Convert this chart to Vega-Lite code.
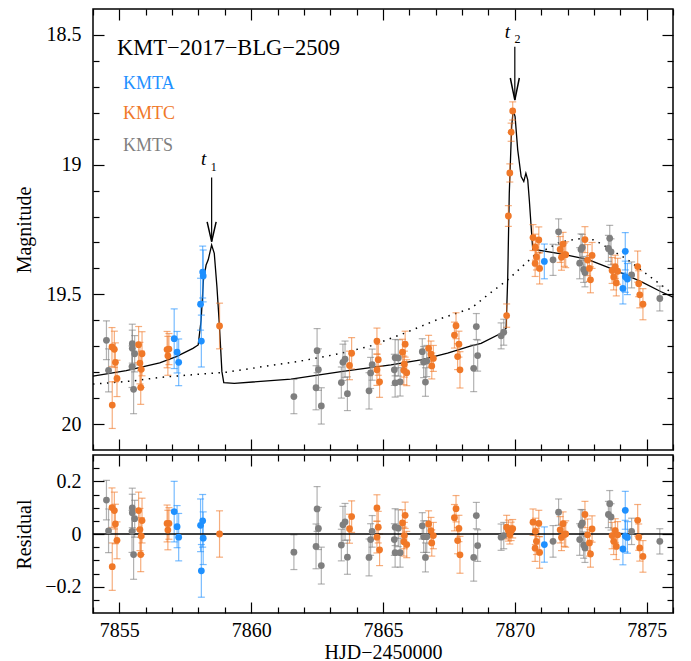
{
  "$schema": "https://vega.github.io/schema/vega-lite/v6.json",
  "padding": {"left": 13, "top": 7, "right": 19, "bottom": 0},
  "spacing": 1,
  "datasets": {
    "obs": [
      {"t":7854.51,"s":"KMTS","m":19.677,"e":0.075,"r":0.129},
      {"t":7854.59,"s":"KMTS","m":19.793,"e":0.083,"r":0.012},
      {"t":7855.49,"s":"KMTS","m":19.690,"e":0.075,"r":0.099},
      {"t":7855.49,"s":"KMTS","m":19.708,"e":0.070,"r":0.081},
      {"t":7855.58,"s":"KMTS","m":19.729,"e":0.070,"r":0.058},
      {"t":7855.48,"s":"KMTS","m":19.779,"e":0.080,"r":0.010},
      {"t":7855.54,"s":"KMTS","m":19.866,"e":0.094,"r":-0.078},
      {"t":7854.72,"s":"KMTC","m":19.703,"e":0.075,"r":0.100},
      {"t":7854.81,"s":"KMTC","m":19.712,"e":0.070,"r":0.089},
      {"t":7854.85,"s":"KMTC","m":19.762,"e":0.075,"r":0.038},
      {"t":7854.91,"s":"KMTC","m":19.824,"e":0.070,"r":-0.024},
      {"t":7854.73,"s":"KMTC","m":19.927,"e":0.090,"r":-0.124},
      {"t":7855.73,"s":"KMTC","m":19.694,"e":0.070,"r":0.089},
      {"t":7855.78,"s":"KMTC","m":19.765,"e":0.080,"r":0.017},
      {"t":7855.86,"s":"KMTC","m":19.729,"e":0.085,"r":0.051},
      {"t":7855.83,"s":"KMTC","m":19.789,"e":0.070,"r":-0.008},
      {"t":7855.81,"s":"KMTC","m":19.859,"e":0.065,"r":-0.078},
      {"t":7856.81,"s":"KMTC","m":19.713,"e":0.070,"r":0.040},
      {"t":7856.88,"s":"KMTC","m":19.711,"e":0.060,"r":0.040},
      {"t":7856.84,"s":"KMTC","m":19.737,"e":0.075,"r":0.015},
      {"t":7857.08,"s":"KMTA","m":19.671,"e":0.115,"r":0.085},
      {"t":7857.19,"s":"KMTA","m":19.723,"e":0.080,"r":0.028},
      {"t":7857.25,"s":"KMTA","m":19.762,"e":0.090,"r":-0.012},
      {"t":7858.08,"s":"KMTA","m":19.538,"e":0.100,"r":0.033},
      {"t":7858.11,"s":"KMTA","m":19.680,"e":0.100,"r":-0.140},
      {"t":7858.16,"s":"KMTA","m":19.414,"e":0.100,"r":0.050},
      {"t":7858.18,"s":"KMTA","m":19.429,"e":0.100,"r":-0.016},
      {"t":7858.80,"s":"KMTC","m":19.622,"e":0.088,"r":0.000},
      {"t":7861.62,"s":"KMTS","m":19.894,"e":0.066,"r":-0.069},
      {"t":7862.50,"s":"KMTS","m":19.717,"e":0.085,"r":0.095},
      {"t":7862.55,"s":"KMTS","m":19.790,"e":0.080,"r":0.021},
      {"t":7862.46,"s":"KMTS","m":19.860,"e":0.085,"r":-0.047},
      {"t":7862.66,"s":"KMTS","m":19.930,"e":0.070,"r":-0.120},
      {"t":7863.42,"s":"KMTS","m":19.840,"e":0.060,"r":-0.042},
      {"t":7863.48,"s":"KMTS","m":19.762,"e":0.070,"r":0.035},
      {"t":7863.56,"s":"KMTS","m":19.750,"e":0.070,"r":0.046},
      {"t":7863.65,"s":"KMTS","m":19.883,"e":0.065,"r":-0.088},
      {"t":7863.73,"s":"KMTC","m":19.774,"e":0.055,"r":0.020},
      {"t":7863.81,"s":"KMTC","m":19.727,"e":0.060,"r":0.066},
      {"t":7864.47,"s":"KMTS","m":19.872,"e":0.070,"r":-0.089},
      {"t":7864.53,"s":"KMTS","m":19.803,"e":0.060,"r":-0.021},
      {"t":7864.59,"s":"KMTS","m":19.771,"e":0.060,"r":0.010},
      {"t":7864.77,"s":"KMTC","m":19.680,"e":0.050,"r":0.099},
      {"t":7864.82,"s":"KMTC","m":19.752,"e":0.060,"r":0.026},
      {"t":7864.77,"s":"KMTC","m":19.791,"e":0.060,"r":-0.012},
      {"t":7864.87,"s":"KMTC","m":19.837,"e":0.060,"r":-0.060},
      {"t":7865.43,"s":"KMTS","m":19.791,"e":0.060,"r":-0.021},
      {"t":7865.46,"s":"KMTS","m":19.744,"e":0.070,"r":0.026},
      {"t":7865.58,"s":"KMTS","m":19.745,"e":0.070,"r":0.022},
      {"t":7865.46,"s":"KMTS","m":19.841,"e":0.055,"r":-0.071},
      {"t":7865.65,"s":"KMTS","m":19.837,"e":0.055,"r":-0.071},
      {"t":7865.74,"s":"KMTC","m":19.723,"e":0.050,"r":0.042},
      {"t":7865.84,"s":"KMTC","m":19.692,"e":0.050,"r":0.071},
      {"t":7865.81,"s":"KMTC","m":19.769,"e":0.050,"r":-0.006},
      {"t":7865.79,"s":"KMTC","m":19.793,"e":0.055,"r":-0.029},
      {"t":7865.90,"s":"KMTC","m":19.802,"e":0.050,"r":-0.040},
      {"t":7866.49,"s":"KMTS","m":19.721,"e":0.050,"r":0.031},
      {"t":7866.54,"s":"KMTS","m":19.761,"e":0.060,"r":-0.010},
      {"t":7866.66,"s":"KMTS","m":19.757,"e":0.060,"r":-0.010},
      {"t":7866.61,"s":"KMTS","m":19.838,"e":0.055,"r":-0.089},
      {"t":7866.73,"s":"KMTC","m":19.708,"e":0.050,"r":0.038},
      {"t":7866.82,"s":"KMTC","m":19.730,"e":0.050,"r":0.013},
      {"t":7866.91,"s":"KMTC","m":19.747,"e":0.050,"r":-0.006},
      {"t":7866.85,"s":"KMTC","m":19.776,"e":0.050,"r":-0.034},
      {"t":7867.71,"s":"KMTC","m":19.657,"e":0.050,"r":0.062},
      {"t":7867.77,"s":"KMTC","m":19.621,"e":0.050,"r":0.096},
      {"t":7867.88,"s":"KMTC","m":19.692,"e":0.050,"r":0.021},
      {"t":7867.83,"s":"KMTC","m":19.740,"e":0.050,"r":-0.025},
      {"t":7867.92,"s":"KMTC","m":19.791,"e":0.070,"r":-0.079},
      {"t":7868.44,"s":"KMTS","m":19.785,"e":0.090,"r":-0.089},
      {"t":7868.54,"s":"KMTS","m":19.624,"e":0.050,"r":0.070},
      {"t":7868.59,"s":"KMTS","m":19.736,"e":0.060,"r":-0.044},
      {"t":7869.48,"s":"KMTS","m":19.660,"e":0.050,"r":-0.012},
      {"t":7869.58,"s":"KMTS","m":19.646,"e":0.050,"r":-0.006},
      {"t":7869.69,"s":"KMTC","m":19.582,"e":0.045,"r":0.026},
      {"t":7869.755,"s":"KMTC","m":19.198,"e":0.040,"r":0.013},
      {"t":7869.81,"s":"KMTC","m":19.032,"e":0.035,"r":-0.003},
      {"t":7869.86,"s":"KMTC","m":18.875,"e":0.035,"r":0.010},
      {"t":7869.92,"s":"KMTC","m":18.793,"e":0.035,"r":0.020},
      {"t":7870.69,"s":"KMTC","m":19.281,"e":0.050,"r":0.045},
      {"t":7870.78,"s":"KMTC","m":19.318,"e":0.050,"r":0.010},
      {"t":7870.82,"s":"KMTC","m":19.356,"e":0.050,"r":-0.028},
      {"t":7870.77,"s":"KMTC","m":19.381,"e":0.050,"r":-0.054},
      {"t":7870.91,"s":"KMTC","m":19.290,"e":0.050,"r":0.040},
      {"t":7870.94,"s":"KMTC","m":19.400,"e":0.060,"r":-0.070},
      {"t":7871.12,"s":"KMTA","m":19.373,"e":0.067,"r":-0.040},
      {"t":7871.45,"s":"KMTS","m":19.367,"e":0.060,"r":-0.028},
      {"t":7871.66,"s":"KMTS","m":19.259,"e":0.050,"r":0.083},
      {"t":7871.72,"s":"KMTC","m":19.327,"e":0.050,"r":0.016},
      {"t":7871.77,"s":"KMTC","m":19.357,"e":0.050,"r":-0.013},
      {"t":7871.83,"s":"KMTC","m":19.306,"e":0.045,"r":0.039},
      {"t":7871.88,"s":"KMTC","m":19.347,"e":0.045,"r":-0.002},
      {"t":7871.93,"s":"KMTC","m":19.347,"e":0.050,"r":0.000},
      {"t":7872.46,"s":"KMTS","m":19.380,"e":0.060,"r":-0.021},
      {"t":7872.51,"s":"KMTS","m":19.327,"e":0.060,"r":0.033},
      {"t":7872.56,"s":"KMTS","m":19.319,"e":0.050,"r":0.042},
      {"t":7872.61,"s":"KMTS","m":19.404,"e":0.050,"r":-0.042},
      {"t":7872.66,"s":"KMTS","m":19.416,"e":0.055,"r":-0.053},
      {"t":7872.66,"s":"KMTC","m":19.289,"e":0.050,"r":0.074},
      {"t":7872.76,"s":"KMTC","m":19.368,"e":0.060,"r":-0.003},
      {"t":7872.83,"s":"KMTC","m":19.400,"e":0.050,"r":-0.034},
      {"t":7872.87,"s":"KMTC","m":19.444,"e":0.050,"r":-0.076},
      {"t":7872.93,"s":"KMTC","m":19.350,"e":0.050,"r":0.019},
      {"t":7873.55,"s":"KMTS","m":19.323,"e":0.050,"r":0.074},
      {"t":7873.60,"s":"KMTS","m":19.284,"e":0.050,"r":0.115},
      {"t":7873.65,"s":"KMTS","m":19.336,"e":0.050,"r":0.065},
      {"t":7873.69,"s":"KMTC","m":19.408,"e":0.050,"r":-0.006},
      {"t":7873.75,"s":"KMTC","m":19.433,"e":0.050,"r":-0.028},
      {"t":7873.81,"s":"KMTC","m":19.394,"e":0.045,"r":0.013},
      {"t":7873.85,"s":"KMTC","m":19.456,"e":0.050,"r":-0.047},
      {"t":7873.90,"s":"KMTC","m":19.411,"e":0.050,"r":-0.003},
      {"t":7874.10,"s":"KMTA","m":19.477,"e":0.060,"r":-0.057},
      {"t":7874.19,"s":"KMTA","m":19.334,"e":0.072,"r":0.090},
      {"t":7874.19,"s":"KMTA","m":19.432,"e":0.060,"r":-0.008},
      {"t":7874.27,"s":"KMTA","m":19.441,"e":0.060,"r":-0.013},
      {"t":7874.43,"s":"KMTS","m":19.425,"e":0.050,"r":0.010},
      {"t":7874.66,"s":"KMTC","m":19.393,"e":0.060,"r":0.052},
      {"t":7874.70,"s":"KMTC","m":19.459,"e":0.050,"r":-0.012},
      {"t":7874.74,"s":"KMTC","m":19.502,"e":0.050,"r":-0.053},
      {"t":7874.86,"s":"KMTC","m":19.538,"e":0.060,"r":-0.085},
      {"t":7875.50,"s":"KMTS","m":19.516,"e":0.048,"r":-0.028}
    ],
    "model": [
      {"t":7854.0,"m":19.815},{"t":7855.26,"m":19.794},{"t":7856.53,"m":19.764},
      {"t":7857.16,"m":19.74},{"t":7857.79,"m":19.708},{"t":7857.99,"m":19.695},
      {"t":7858.10,"m":19.60},{"t":7858.19,"m":19.444},{"t":7858.29,"m":19.387},
      {"t":7858.37,"m":19.367},{"t":7858.50,"m":19.31},{"t":7858.60,"m":19.342},
      {"t":7858.70,"m":19.47},{"t":7858.79,"m":19.612},{"t":7858.89,"m":19.798},
      {"t":7858.96,"m":19.84},{"t":7859.36,"m":19.843},{"t":7861.51,"m":19.827},
      {"t":7863.41,"m":19.798},{"t":7865.30,"m":19.772},{"t":7866.44,"m":19.753},
      {"t":7867.45,"m":19.727},{"t":7868.34,"m":19.699},{"t":7868.72,"m":19.689},
      {"t":7869.48,"m":19.65},{"t":7869.67,"m":19.631},{"t":7869.73,"m":19.44},
      {"t":7869.79,"m":19.11},{"t":7869.88,"m":18.853},{"t":7869.94,"m":18.789},
      {"t":7870.01,"m":18.815},{"t":7870.11,"m":18.943},{"t":7870.24,"m":19.046},
      {"t":7870.34,"m":19.065},{"t":7870.42,"m":19.033},{"t":7870.49,"m":19.059},
      {"t":7870.55,"m":19.136},{"t":7870.61,"m":19.226},{"t":7870.68,"m":19.326},
      {"t":7871.75,"m":19.344},{"t":7872.76,"m":19.365},{"t":7873.78,"m":19.406},
      {"t":7874.79,"m":19.451},{"t":7875.55,"m":19.49},{"t":7876.0,"m":19.511}
    ],
    "single": [
      {"t":7854.0,"m":19.846},{"t":7855.5,"m":19.834},{"t":7856.53,"m":19.82},
      {"t":7858.0,"m":19.808},{"t":7859.06,"m":19.8},{"t":7860.75,"m":19.774},
      {"t":7862.0,"m":19.755},{"t":7863.28,"m":19.73},{"t":7864.5,"m":19.70},
      {"t":7865.81,"m":19.65},{"t":7867.0,"m":19.60},{"t":7868.34,"m":19.554},
      {"t":7869.0,"m":19.50},{"t":7869.73,"m":19.444},{"t":7870.74,"m":19.35},
      {"t":7871.75,"m":19.297},{"t":7872.5,"m":19.285},{"t":7873.02,"m":19.29},
      {"t":7873.77,"m":19.335},{"t":7874.28,"m":19.367},{"t":7875.04,"m":19.425},
      {"t":7875.55,"m":19.464},{"t":7876.0,"m":19.498}
    ]
  },
  "vconcat": [
    {
      "width": 580,
      "height": 441,
      "layer": [
        {
          "data": {"name": "single"},
          "mark": {"type": "line", "color": "black", "strokeWidth": 1.5, "strokeDash": [1.5, 5.5]},
          "encoding": {
            "x": {"field": "t", "type": "quantitative", "scale": {"domain": [7854, 7876], "nice": false, "zero": false}, "axis": null},
            "y": {"field": "m", "type": "quantitative", "scale": {"domain": [18.4, 20.1], "reverse": true, "nice": false, "zero": false}, "axis": null}
          }
        },
        {
          "data": {"name": "model"},
          "mark": {"type": "line", "color": "black", "strokeWidth": 1.3},
          "encoding": {
            "x": {"field": "t", "type": "quantitative", "axis": {"orient": "top", "values": [7854,7856,7857,7858,7859,7861,7862,7863,7864,7866,7867,7868,7869,7871,7872,7873,7874,7876], "labels": false, "title": null, "tickSize": -6}},
            "y": {"field": "m", "type": "quantitative", "axis": {"orient": "right", "values": [18.6,18.7,18.8,18.9,19.1,19.2,19.3,19.4,19.6,19.7,19.8,19.9], "labels": false, "title": null, "tickSize": -6}}
          }
        },
        {
          "data": {"name": "obs"},
          "mark": {"type": "errorbar", "ticks": {"size": 7}, "thickness": 1.2, "opacity": 0.6},
          "encoding": {
            "x": {"field": "t", "type": "quantitative", "axis": null},
            "y": {"field": "m", "type": "quantitative", "axis": null},
            "yError": {"field": "e"},
            "color": {"field": "s", "type": "nominal", "scale": {"domain": ["KMTA", "KMTC", "KMTS"], "range": ["#1E90FF", "#F07828", "#7F7F7F"]}, "legend": null}
          }
        },
        {
          "data": {"name": "obs"},
          "transform": [{"filter": "datum.s === 'KMTS'"}],
          "mark": {"type": "circle", "size": 46, "opacity": 1},
          "encoding": {
            "x": {"field": "t", "type": "quantitative", "axis": {"orient": "bottom", "values": [7855,7860,7865,7870,7875], "labels": false, "title": null, "tickSize": -11}},
            "y": {"field": "m", "type": "quantitative", "axis": {"orient": "left", "values": [18.5,19,19.5,20], "format": "~g", "labelPadding": 23, "title": "Magnitude", "titleX": -69, "titleY": 220.5, "titleBaseline": "middle", "tickSize": -11}},
            "color": {"field": "s", "type": "nominal", "legend": null}
          }
        },
        {
          "data": {"name": "obs"},
          "transform": [{"filter": "datum.s === 'KMTC'"}],
          "mark": {"type": "circle", "size": 46, "opacity": 1},
          "encoding": {
            "x": {"field": "t", "type": "quantitative", "axis": {"orient": "bottom", "values": [7854,7856,7857,7858,7859,7861,7862,7863,7864,7866,7867,7868,7869,7871,7872,7873,7874,7876], "labels": false, "title": null, "tickSize": -6}},
            "y": {"field": "m", "type": "quantitative", "axis": {"orient": "left", "values": [18.6,18.7,18.8,18.9,19.1,19.2,19.3,19.4,19.6,19.7,19.8,19.9], "labels": false, "title": null, "tickSize": -6}},
            "color": {"field": "s", "type": "nominal", "legend": null}
          }
        },
        {
          "data": {"name": "obs"},
          "transform": [{"filter": "datum.s === 'KMTA'"}],
          "mark": {"type": "circle", "size": 46, "opacity": 1},
          "encoding": {
            "x": {"field": "t", "type": "quantitative", "axis": {"orient": "top", "values": [7855,7860,7865,7870,7875], "labels": false, "title": null, "tickSize": -11}},
            "y": {"field": "m", "type": "quantitative", "axis": {"orient": "right", "values": [18.5,19,19.5,20], "labels": false, "title": null, "tickSize": -11}},
            "color": {"field": "s", "type": "nominal", "legend": null}
          }
        },
        {
          "data": {"values": [{}]},
          "mark": {"type": "rule", "color": "black", "strokeWidth": 1.2},
          "encoding": {"x": {"datum": 7858.5, "axis": null}, "y": {"datum": 19.05, "axis": null}, "y2": {"datum": 19.297}}
        },
        {
          "data": {"values": [{}]},
          "mark": {"type": "point", "shape": "M-1,-4.4L0,0L1,-4.4", "filled": false, "color": "black", "strokeWidth": 1.5, "size": 81, "opacity": 1},
          "encoding": {"x": {"datum": 7858.5, "axis": null}, "y": {"datum": 19.297, "axis": null}}
        },
        {
          "data": {"values": [{}]},
          "mark": {"type": "rule", "color": "black", "strokeWidth": 1.2},
          "encoding": {"x": {"datum": 7870.0, "axis": null}, "y": {"datum": 18.546, "axis": null}, "y2": {"datum": 18.751}}
        },
        {
          "data": {"values": [{}]},
          "mark": {"type": "point", "shape": "M-1,-4.9L0,0L1,-4.9", "filled": false, "color": "black", "strokeWidth": 1.5, "size": 81, "opacity": 1},
          "encoding": {"x": {"datum": 7870.0, "axis": null}, "y": {"datum": 18.751, "axis": null}}
        },
        {
          "data": {"values": [{}]},
          "mark": {"type": "text", "text": "KMT−2017−BLG−2509", "align": "left", "baseline": "alphabetic", "fontSize": 22.5, "font": "Liberation Serif", "color": "black"},
          "encoding": {"x": {"datum": 7854.91, "axis": null}, "y": {"datum": 18.577, "axis": null}}
        },
        {
          "data": {"values": [{}]},
          "mark": {"type": "text", "text": "KMTA", "align": "left", "baseline": "alphabetic", "fontSize": 18, "font": "Liberation Serif", "color": "#1E90FF"},
          "encoding": {"x": {"datum": 7855.14, "axis": null}, "y": {"datum": 18.708, "axis": null}}
        },
        {
          "data": {"values": [{}]},
          "mark": {"type": "text", "text": "KMTC", "align": "left", "baseline": "alphabetic", "fontSize": 18, "font": "Liberation Serif", "color": "#F07828"},
          "encoding": {"x": {"datum": 7855.14, "axis": null}, "y": {"datum": 18.824, "axis": null}}
        },
        {
          "data": {"values": [{}]},
          "mark": {"type": "text", "text": "KMTS", "align": "left", "baseline": "alphabetic", "fontSize": 18, "font": "Liberation Serif", "color": "#7F7F7F"},
          "encoding": {"x": {"datum": 7855.14, "axis": null}, "y": {"datum": 18.947, "axis": null}}
        },
        {
          "data": {"values": [{}]},
          "mark": {"type": "text", "text": "t", "align": "center", "baseline": "alphabetic", "fontSize": 19, "fontStyle": "italic", "font": "Liberation Serif", "color": "black"},
          "encoding": {"x": {"datum": 7858.2, "axis": null}, "y": {"datum": 19.003, "axis": null}}
        },
        {
          "data": {"values": [{}]},
          "mark": {"type": "text", "text": "1", "align": "center", "baseline": "alphabetic", "fontSize": 12, "font": "Liberation Serif", "color": "black"},
          "encoding": {"x": {"datum": 7858.58, "axis": null}, "y": {"datum": 19.023, "axis": null}}
        },
        {
          "data": {"values": [{}]},
          "mark": {"type": "text", "text": "t", "align": "center", "baseline": "alphabetic", "fontSize": 19, "fontStyle": "italic", "font": "Liberation Serif", "color": "black"},
          "encoding": {"x": {"datum": 7869.72, "axis": null}, "y": {"datum": 18.51, "axis": null}}
        },
        {
          "data": {"values": [{}]},
          "mark": {"type": "text", "text": "2", "align": "center", "baseline": "alphabetic", "fontSize": 12, "font": "Liberation Serif", "color": "black"},
          "encoding": {"x": {"datum": 7870.1, "axis": null}, "y": {"datum": 18.531, "axis": null}}
        }
      ],
      "resolve": {"axis": {"x": "independent", "y": "independent"}}
    },
    {
      "width": 580,
      "height": 158,
      "layer": [
        {
          "data": {"name": "obs"},
          "mark": {"type": "errorbar", "ticks": {"size": 7}, "thickness": 1.2, "opacity": 0.6},
          "encoding": {
            "x": {"field": "t", "type": "quantitative", "scale": {"domain": [7854, 7876], "nice": false, "zero": false}, "axis": null},
            "y": {"field": "r", "type": "quantitative", "scale": {"domain": [-0.3, 0.3], "nice": false, "zero": false}, "axis": null},
            "yError": {"field": "e"},
            "color": {"field": "s", "type": "nominal", "scale": {"domain": ["KMTA", "KMTC", "KMTS"], "range": ["#1E90FF", "#F07828", "#7F7F7F"]}, "legend": null}
          }
        },
        {
          "data": {"values": [{}]},
          "mark": {"type": "rule", "color": "black", "strokeWidth": 1.3},
          "encoding": {
            "x": {"datum": 7854, "axis": {"orient": "top", "values": [7854,7856,7857,7858,7859,7861,7862,7863,7864,7866,7867,7868,7869,7871,7872,7873,7874,7876], "labels": false, "title": null, "tickSize": -6}},
            "x2": {"datum": 7876},
            "y": {"datum": 0, "axis": {"orient": "right", "values": [-0.25,-0.15,-0.1,-0.05,0.05,0.1,0.15,0.25], "labels": false, "title": null, "tickSize": -6}}
          }
        },
        {
          "data": {"name": "obs"},
          "transform": [{"filter": "datum.s === 'KMTS'"}],
          "mark": {"type": "circle", "size": 46, "opacity": 1},
          "encoding": {
            "x": {"field": "t", "type": "quantitative", "axis": {"orient": "bottom", "values": [7855,7860,7865,7870,7875], "format": "d", "labelPadding": 18, "title": "HJD−2450000", "titleX": 290, "titleY": 45, "titleBaseline": "alphabetic", "tickSize": -11}},
            "y": {"field": "r", "type": "quantitative", "axis": {"orient": "left", "values": [-0.2,0,0.2], "format": "~g", "labelPadding": 23, "title": "Residual", "titleX": -69, "titleY": 79, "titleBaseline": "middle", "tickSize": -11}},
            "color": {"field": "s", "type": "nominal", "legend": null}
          }
        },
        {
          "data": {"name": "obs"},
          "transform": [{"filter": "datum.s === 'KMTC'"}],
          "mark": {"type": "circle", "size": 46, "opacity": 1},
          "encoding": {
            "x": {"field": "t", "type": "quantitative", "axis": {"orient": "bottom", "values": [7854,7856,7857,7858,7859,7861,7862,7863,7864,7866,7867,7868,7869,7871,7872,7873,7874,7876], "labels": false, "title": null, "tickSize": -6}},
            "y": {"field": "r", "type": "quantitative", "axis": {"orient": "left", "values": [-0.25,-0.15,-0.1,-0.05,0.05,0.1,0.15,0.25], "labels": false, "title": null, "tickSize": -6}},
            "color": {"field": "s", "type": "nominal", "legend": null}
          }
        },
        {
          "data": {"name": "obs"},
          "transform": [{"filter": "datum.s === 'KMTA'"}],
          "mark": {"type": "circle", "size": 46, "opacity": 1},
          "encoding": {
            "x": {"field": "t", "type": "quantitative", "axis": {"orient": "top", "values": [7855,7860,7865,7870,7875], "labels": false, "title": null, "tickSize": -11}},
            "y": {"field": "r", "type": "quantitative", "axis": {"orient": "right", "values": [-0.2,0,0.2], "labels": false, "title": null, "tickSize": -11}},
            "color": {"field": "s", "type": "nominal", "legend": null}
          }
        }
      ],
      "resolve": {"axis": {"x": "independent", "y": "independent"}}
    }
  ],
  "config": {
    "view": {"stroke": "black", "strokeWidth": 1.5},
    "font": "Liberation Serif",
    "axis": {
      "labelFont": "Liberation Serif", "titleFont": "Liberation Serif",
      "labelFontSize": 20, "titleFontSize": 20, "titleFontWeight": "normal",
      "labelColor": "black", "titleColor": "black",
      "ticks": true, "tickColor": "black", "tickWidth": 1.2, "tickOpacity": 1,
      "grid": false, "domain": false, "labelOverlap": false, "labelFlush": false
    }
  }
}
